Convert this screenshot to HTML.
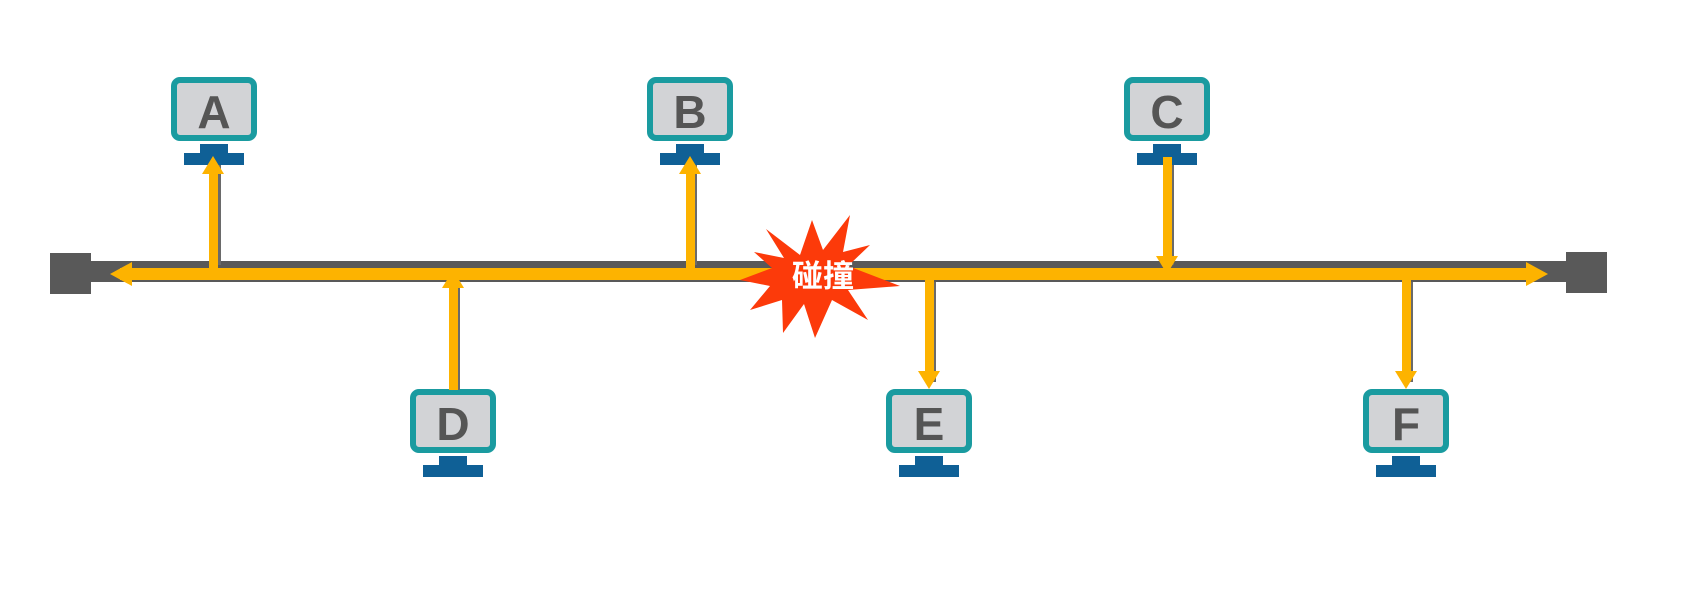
<!DOCTYPE html>
<html><head><meta charset="utf-8"><style>
html,body{margin:0;padding:0;background:#fff;width:1683px;height:599px;overflow:hidden}
</style></head><body>
<svg width="1683" height="599" xmlns="http://www.w3.org/2000/svg">
<defs>
<g id="pc">
  <rect x="-40" y="0" width="80" height="58" rx="6" fill="#d2d3d6" stroke="#1a9ba0" stroke-width="6"/>
  <rect x="-14" y="64" width="28" height="10" fill="#0f6096"/>
  <rect x="-30" y="73" width="60" height="12" fill="#0f6096"/>
</g>
</defs>
<!-- bus -->
<rect x="50" y="253" width="41" height="41" fill="#595959"/>
<rect x="1566" y="252" width="41" height="41" fill="#595959"/>
<rect x="88" y="261" width="1480" height="21" fill="#595959"/>
<!-- computers top -->
<g transform="translate(214,80)"><use href="#pc"/></g>
<g transform="translate(690,80)"><use href="#pc"/></g>
<g transform="translate(1167,80)"><use href="#pc"/></g>
<g transform="translate(453,392)"><use href="#pc"/></g>
<g transform="translate(929,392)"><use href="#pc"/></g>
<g transform="translate(1406,392)"><use href="#pc"/></g>
<g font-family="Liberation Sans, sans-serif" font-weight="bold" font-size="46" fill="#555" text-anchor="middle">
<text x="214" y="128">A</text><text x="690" y="128">B</text><text x="1167" y="128">C</text>
<text x="453" y="440">D</text><text x="929" y="440">E</text><text x="1406" y="440">F</text>
</g>
<!-- vertical shadows -->
<g fill="#6a6a6a">
<rect x="217" y="165" width="4" height="100"/>
<rect x="693" y="165" width="4" height="100"/>
<rect x="1170" y="165" width="4" height="100"/>
<rect x="456" y="282" width="4" height="108"/>
<rect x="932" y="282" width="4" height="100"/>
<rect x="1409" y="282" width="4" height="100"/>
</g>
<!-- yellow lines -->
<g fill="#fdb300">
<rect x="120" y="268" width="1415" height="12"/>
<polygon points="110,274 132,262 132,286"/>
<polygon points="1548,274 1526,262 1526,286"/>
<rect x="209" y="170" width="9" height="100"/><polygon points="213,156 202,174 224,174"/>
<rect x="686" y="170" width="9" height="100"/><polygon points="690,156 679,174 701,174"/>
<rect x="1163" y="157" width="9" height="100"/><polygon points="1167,274 1156,256 1178,256"/>
<rect x="449" y="285" width="9" height="105"/><polygon points="453,270 442,288 464,288"/>
<rect x="925" y="275" width="9" height="100"/><polygon points="929,389 918,371 940,371"/>
<rect x="1402" y="275" width="9" height="100"/><polygon points="1406,389 1395,371 1417,371"/>
</g>
<!-- burst -->
<polygon fill="#fc3a0a" points="766,229 800,255 812,220 823,250 850,215 843,252 870,245 848,266 900,286 848,290 868,320 832,300 815,338 804,304 783,333 782,300 750,310 770,286 740,280 772,268 754,252 784,258"/>
<text x="823" y="287" font-family="Liberation Sans, 'Noto Sans CJK SC', sans-serif" font-weight="bold" font-size="31" fill="#fff" text-anchor="middle">碰撞</text>
</svg>
</body></html>
